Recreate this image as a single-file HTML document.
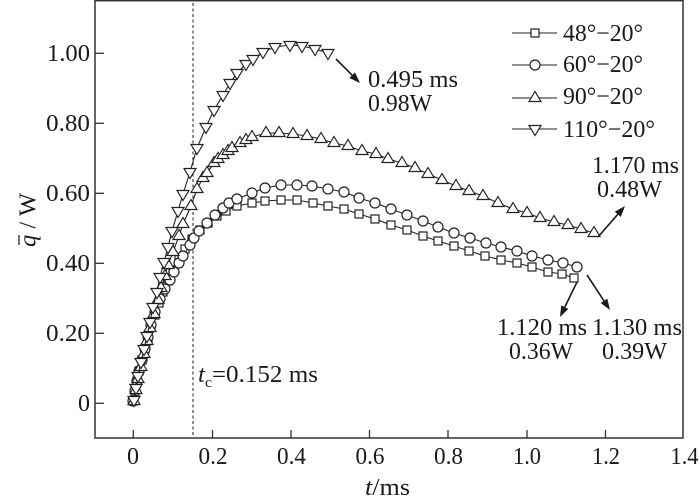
<!DOCTYPE html>
<html>
<head>
<meta charset="utf-8">
<style>
  html, body { margin: 0; padding: 0; background: #fff; }
  svg { display: block; }
  text { font-family: "Liberation Serif", serif; fill: #1a1a1a; }
</style>
</head>
<body>
<svg width="700" height="503" viewBox="0 0 700 503" xmlns="http://www.w3.org/2000/svg" font-family="Liberation Serif, serif">
  <defs>
    <marker id="sq" markerWidth="12" markerHeight="12" refX="6" refY="6" markerUnits="userSpaceOnUse" overflow="visible">
      <rect x="2" y="2" width="8" height="8" fill="#fff" stroke="#222" stroke-width="1.2"/>
    </marker>
    <marker id="ci" markerWidth="12" markerHeight="12" refX="6" refY="6" markerUnits="userSpaceOnUse" overflow="visible">
      <circle cx="6" cy="6" r="5" fill="#fff" stroke="#222" stroke-width="1.2"/>
    </marker>
    <marker id="up" markerWidth="14" markerHeight="14" refX="7" refY="7" markerUnits="userSpaceOnUse" overflow="visible">
      <polygon points="7,0.5 13,10.5 1,10.5" fill="#fff" stroke="#222" stroke-width="1.2" stroke-linejoin="miter"/>
    </marker>
    <marker id="dn" markerWidth="14" markerHeight="14" refX="7" refY="7" markerUnits="userSpaceOnUse" overflow="visible">
      <polygon points="7,13.5 13,3.5 1,3.5" fill="#fff" stroke="#222" stroke-width="1.2" stroke-linejoin="miter"/>
    </marker>
  </defs>

  <rect x="0" y="0" width="700" height="503" fill="#fff"/>

  <!-- frame -->
  <rect x="95" y="0.7" width="588" height="437.3" fill="none" stroke="#333" stroke-width="1.5"/>

  <!-- y ticks -->
  <g stroke="#333" stroke-width="1.3">
    <line x1="95" y1="53.3" x2="104" y2="53.3"/>
    <line x1="95" y1="123.3" x2="104" y2="123.3"/>
    <line x1="95" y1="193.3" x2="104" y2="193.3"/>
    <line x1="95" y1="263.3" x2="104" y2="263.3"/>
    <line x1="95" y1="333.3" x2="104" y2="333.3"/>
    <line x1="95" y1="403.3" x2="104" y2="403.3"/>
  </g>
  <!-- x ticks -->
  <g stroke="#333" stroke-width="1.3">
    <line x1="133.3" y1="430" x2="133.3" y2="438"/>
    <line x1="212.5" y1="430" x2="212.5" y2="438"/>
    <line x1="291" y1="430" x2="291" y2="438"/>
    <line x1="369.5" y1="430" x2="369.5" y2="438"/>
    <line x1="448" y1="430" x2="448" y2="438"/>
    <line x1="527" y1="430" x2="527" y2="438"/>
    <line x1="605.5" y1="430" x2="605.5" y2="438"/>
  </g>

  <!-- y tick labels -->
  <g font-size="24" text-anchor="end">
    <text x="90" y="61" textLength="43" lengthAdjust="spacingAndGlyphs">1.00</text>
    <text x="90" y="131" textLength="44" lengthAdjust="spacingAndGlyphs">0.80</text>
    <text x="90" y="201" textLength="44" lengthAdjust="spacingAndGlyphs">0.60</text>
    <text x="90" y="271" textLength="44" lengthAdjust="spacingAndGlyphs">0.40</text>
    <text x="90" y="341" textLength="44" lengthAdjust="spacingAndGlyphs">0.20</text>
    <text x="90" y="411">0</text>
  </g>
  <!-- x tick labels -->
  <g font-size="24" text-anchor="middle">
    <text x="133" y="464">0</text>
    <text x="213" y="464" textLength="29" lengthAdjust="spacingAndGlyphs">0.2</text>
    <text x="291.5" y="464" textLength="29" lengthAdjust="spacingAndGlyphs">0.4</text>
    <text x="370" y="464" textLength="29" lengthAdjust="spacingAndGlyphs">0.6</text>
    <text x="448.5" y="464" textLength="29" lengthAdjust="spacingAndGlyphs">0.8</text>
    <text x="527" y="464" textLength="28" lengthAdjust="spacingAndGlyphs">1.0</text>
    <text x="606" y="464" textLength="28" lengthAdjust="spacingAndGlyphs">1.2</text>
    <text x="684.5" y="464" textLength="28" lengthAdjust="spacingAndGlyphs">1.4</text>
  </g>

  <!-- axis labels -->
  <text x="365" y="495" font-size="24" textLength="45" lengthAdjust="spacingAndGlyphs"><tspan font-style="italic">t</tspan>/ms</text>
  <g transform="translate(35.5,247) rotate(-90)">
    <text x="0" y="0" font-size="24" textLength="54" lengthAdjust="spacingAndGlyphs"><tspan font-style="italic">q</tspan> / W</text>
    <line x1="2" y1="-16.5" x2="12" y2="-16.5" stroke="#1a1a1a" stroke-width="1.2"/>
  </g>

  <!-- dashed tc line -->
  <line x1="193" y1="3" x2="193" y2="438" stroke="#444" stroke-width="1.2" stroke-dasharray="3,2.5"/>
  <text x="198" y="382" font-size="24" textLength="120" lengthAdjust="spacingAndGlyphs"><tspan font-style="italic">t</tspan><tspan font-size="15" dy="5">c</tspan><tspan dy="-5">=0.152 ms</tspan></text>

  <!-- series 48-20 squares -->
  <polyline fill="none" stroke="#222" stroke-width="1.1" marker-start="url(#sq)" marker-mid="url(#sq)" marker-end="url(#sq)"
    points="133,401 135,391 137,381 139,371 142,360 145,349 148,338 151,327 155,315 159,303 163,292 168,281 173,270 179,259 185,249 192,239 200,230 208,223 217,216 226,211 237,206 252,203 265,201 281,200 297,200 313,203 328,206 344,209 359,214 375,219 391,225 407,230 423,236 438,241 454,246 469,251 485,256 501,260 517,263 532,267 548,272 562,274 574,278"/>

  <!-- series 60-20 circles -->
  <polyline fill="none" stroke="#222" stroke-width="1.1" marker-start="url(#ci)" marker-mid="url(#ci)" marker-end="url(#ci)"
    points="133,401 135,391 137,381 139,371 142,360 145,349 148,337 151,325 155,312 160,299 165,289 170,280 174,272 179,263 183,256 190,245 194,238 199,231 207,223 215,215 223,208 229,203 237,199 252,193 265,188 281,185 297,185 312,186 328,189 344,192 359,198 375,203 391,209 407,215 423,221 438,227 454,233 470,238 486,243 501,247 517,251 532,256 548,260 563,263 577,267"/>

  <!-- series 90-20 up triangles -->
  <polyline fill="none" stroke="#222" stroke-width="1.1" marker-start="url(#up)" marker-mid="url(#up)" marker-end="url(#up)"
    points="134,401 136,390 138,379 141,367 144,354 147,341 150,328 154,314 158,300 161,288 165,276 168,265 173,252 179,236 183,224 191,206 197,189 203,178 207,173 214,163 218,159 223,155 228,151 232,148 240,143 246,140 252,137 266,133 279,133 293,134 307,136 321,139 334,143 348,146 362,151 376,154 388,159 402,163 415,168 428,174 442,180 456,186 469,191 483,196 498,203 513,209 527,213 540,218 554,222 568,225 581,229 594,233"/>

  <!-- series 110-20 down triangles -->
  <polyline fill="none" stroke="#222" stroke-width="1.1" marker-start="url(#dn)" marker-mid="url(#dn)" marker-end="url(#dn)"
    points="134,400 136,388 138,376 141,362 144,349 147,336 150,322 153,307 157,292 160,277 164,262 168,247 172,231 178,211 183,194 190,172 197,148 206,127 214,110 223,95 230,83 237,73 246,64 253,59 263,52 275,47 290,45 302,46 315,49 328,53"/>

  <!-- legend -->
  <polyline fill="none" stroke="#222" stroke-width="1.1" marker-mid="url(#sq)" points="512,33 535,33 557,33"/>
  <polyline fill="none" stroke="#222" stroke-width="1.1" marker-mid="url(#ci)" points="512,65 535,65 557,65"/>
  <polyline fill="none" stroke="#222" stroke-width="1.1" marker-mid="url(#up)" points="512,98 535,98 557,98"/>
  <polyline fill="none" stroke="#222" stroke-width="1.1" marker-mid="url(#dn)" points="512,129 535,129 557,129"/>
  <g font-size="24">
    <text x="563" y="41" textLength="80" lengthAdjust="spacingAndGlyphs">48°−20°</text>
    <text x="563" y="72" textLength="80" lengthAdjust="spacingAndGlyphs">60°−20°</text>
    <text x="563" y="104" textLength="80" lengthAdjust="spacingAndGlyphs">90°−20°</text>
    <text x="563" y="137" textLength="92" lengthAdjust="spacingAndGlyphs">110°−20°</text>
  </g>

  <!-- annotations -->
  <g font-size="24">
    <text x="368" y="87" textLength="90" lengthAdjust="spacingAndGlyphs">0.495 ms</text>
    <text x="368" y="111" textLength="64" lengthAdjust="spacingAndGlyphs">0.98W</text>
    <text x="592" y="173" textLength="87" lengthAdjust="spacingAndGlyphs">1.170 ms</text>
    <text x="597" y="197" textLength="65" lengthAdjust="spacingAndGlyphs">0.48W</text>
    <text x="497" y="335" textLength="90" lengthAdjust="spacingAndGlyphs">1.120 ms</text>
    <text x="509" y="359" textLength="64" lengthAdjust="spacingAndGlyphs">0.36W</text>
    <text x="592" y="335" textLength="90" lengthAdjust="spacingAndGlyphs">1.130 ms</text>
    <text x="602" y="359" textLength="65" lengthAdjust="spacingAndGlyphs">0.39W</text>
  </g>

  <!-- arrows -->
  <g stroke="#1a1a1a" stroke-width="1.6" fill="none">
    <line x1="336" y1="59" x2="352.2" y2="75.2"/>
    <line x1="598" y1="237" x2="617.8" y2="214.3"/>
    <line x1="577" y1="282" x2="564.8" y2="307.1"/>
    <line x1="587" y1="275" x2="604" y2="300.8"/>
  </g>
  <g fill="#1a1a1a" stroke="none">
    <polygon points="360,83 349.4,78 355,72.4"/>
    <polygon points="625,206 620.8,216.9 614.8,211.7"/>
    <polygon points="560,317 561.2,305.4 568.4,308.9"/>
    <polygon points="610,310 600.7,303 607.3,298.6"/>
  </g>
</svg>
</body>
</html>
